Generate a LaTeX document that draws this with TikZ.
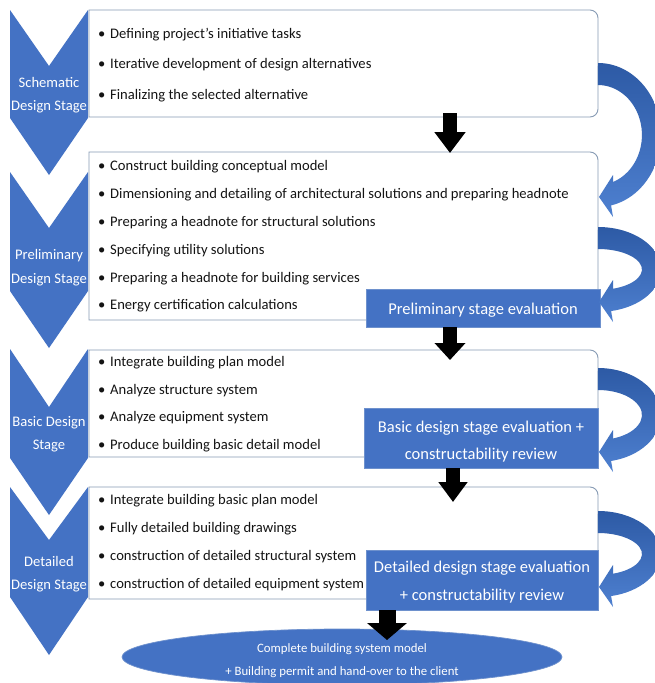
\documentclass[tikz,border=0pt]{standalone}
\usepackage{fontspec}
\setmainfont{Carlito}
\usetikzlibrary{arrows.meta,shapes.geometric}
\definecolor{chev}{RGB}{68,114,196}
\definecolor{boxln}{RGB}{135,155,180}
\definecolor{evln}{RGB}{110,145,205}
\definecolor{arrdark}{RGB}{45,90,165}
\definecolor{arrlight}{RGB}{78,128,208}
\newcommand{\fsBul}{\fontsize{14.6}{17}\selectfont}
\newcommand{\fsEval}{\fontsize{16.5}{20}\selectfont}
\newcommand{\fsEll}{\fontsize{12.8}{15}\selectfont}
% curved loop arrow: #1 = outer top y, #2 = tip y
\newcommand{\loopArrow}[2]{%
  \pgfmathsetmacro\lcy{(#1+#2+10)/2}%
  \pgfmathsetmacro\lryo{(#2+10-#1)/2}%
  \pgfmathsetmacro\lryi{(#2-#1-34)/2}%
  \pgfmathsetmacro\liy{\lcy+\lryi*sin(70)}%
  \shade[loopfill] (598,#1)
    arc[start angle=-90, end angle=78, x radius=63, y radius=\lryo]
    -- (613,#2+20) -- (599,#2) -- (613,#2-22) -- (613,\liy)
    arc[start angle=70, end angle=-90, x radius=44, y radius=\lryi]
    -- cycle;}
\begin{document}
\begin{tikzpicture}[x=1pt,y=-1pt,
  chevron/.style={fill=chev},
  stagetext/.style={text=white,font=\fsBul,anchor=base,inner sep=0},
  bullet/.style={font=\fsBul,anchor=base west,inner sep=0,text=black!92},
  taskbox/.style={draw=boxln,line width=0.9pt,fill=white},
  evalbox/.style={fill=chev,draw=evln,line width=0.7pt,inner sep=0},
  evaltext/.style={text=white,font=\fsEval,anchor=base,inner sep=0},
  loopfill/.style={top color=arrdark,bottom color=arrlight},
  flowarrow/.style={line width=14pt,-{Triangle[width=30pt 0,length=20pt 0]}},
]
\useasboundingbox (0,0) rectangle (655,683);
\fill[white] (0,0) rectangle (655,683);
\clip (0,0) rectangle (655,683);

% chevrons
\fill[chevron] (10,10) -- (49,66) -- (88,10) -- (88,118) -- (49,175) -- (10,118) -- cycle;
\fill[chevron] (10,172) -- (49,228) -- (88,172) -- (88,291) -- (49,348) -- (10,291) -- cycle;
\fill[chevron] (10,349) -- (49,407) -- (88,349) -- (88,458) -- (49,515) -- (10,458) -- cycle;
\fill[chevron] (10,487) -- (49,540) -- (88,487) -- (88,597) -- (49,655) -- (10,597) -- cycle;

\node[stagetext] (s1a) at (49,87) {Schematic};
\node[stagetext] (s1b) at (49,110) {Design Stage};
\node[stagetext] (s2a) at (49,259) {Preliminary};
\node[stagetext] (s2b) at (49,283) {Design Stage};
\node[stagetext] (s3a) at (49,426) {Basic Design};
\node[stagetext] (s3b) at (49,449) {Stage};
\node[stagetext] (s4a) at (49,566) {Detailed};
\node[stagetext] (s4b) at (49,589) {Design Stage};

% task boxes
\draw[taskbox] (89,10) -- (590,10) arc[start angle=-90,end angle=0,radius=8] -- (598,109) arc[start angle=0,end angle=90,radius=8] -- (89,117) -- cycle;
\draw[taskbox] (89,152) -- (590,152) arc[start angle=-90,end angle=0,radius=8] -- (598,312) arc[start angle=0,end angle=90,radius=8] -- (89,320) -- cycle;
\draw[taskbox] (89,350) -- (590,350) arc[start angle=-90,end angle=0,radius=8] -- (598,449) arc[start angle=0,end angle=90,radius=8] -- (89,457) -- cycle;
\draw[taskbox] (89,487) -- (590,487) arc[start angle=-90,end angle=0,radius=8] -- (598,591) arc[start angle=0,end angle=90,radius=8] -- (89,599) -- cycle;

% bullets
\newcommand{\bl}{\makebox[12pt][l]{•}}
\node[bullet] (t11) at (98,38) {\bl Defining project’s initiative tasks};
\node[bullet] (t12) at (98,68) {\bl Iterative development of design alternatives};
\node[bullet] (t13) at (98,99) {\bl Finalizing the selected alternative};

\node[bullet] (t21) at (98,170) {\bl Construct building conceptual model};
\node[bullet] (t22) at (98,198) {\bl Dimensioning and detailing of architectural solutions and preparing headnote};
\node[bullet] (t23) at (98,226) {\bl Preparing a headnote for structural solutions};
\node[bullet] (t24) at (98,254) {\bl Specifying utility solutions};
\node[bullet] (t25) at (98,282) {\bl Preparing a headnote for building services};
\node[bullet] (t26) at (98,309) {\bl Energy certification calculations};

\node[bullet] (t31) at (98,366) {\bl Integrate building plan model};
\node[bullet] (t32) at (98,394) {\bl Analyze structure system};
\node[bullet] (t33) at (98,421) {\bl Analyze equipment system};
\node[bullet] (t34) at (98,449) {\bl Produce building basic detail model};

\node[bullet] (t41) at (98,504) {\bl Integrate building basic plan model};
\node[bullet] (t42) at (98,532) {\bl Fully detailed building drawings};
\node[bullet] (t43) at (98,560) {\bl construction of detailed structural system};
\node[bullet] (t44) at (98,588) {\bl construction of detailed equipment system};

% evaluation boxes
\node[evalbox,minimum width=234pt,minimum height=38pt] (ev1) at (483,308) {};
\node[evaltext] (ev1t) at (483,314) {Preliminary stage evaluation};
\node[evalbox,minimum width=234pt,minimum height=60pt] (ev2) at (481,438) {};
\node[evaltext] (ev2a) at (481,432) {Basic design stage evaluation +};
\node[evaltext] (ev2b) at (481,459) {constructability review};
\node[evalbox,minimum width=232pt,minimum height=60pt] (ev3) at (482,580) {};
\node[evaltext] (ev3a) at (482,572) {Detailed design stage evaluation};
\node[evaltext] (ev3b) at (482,600) {+ constructability review};

% loop arrows
\loopArrow{63}{197}
\loopArrow{227}{302}
\loopArrow{368}{452}
\loopArrow{511}{587}

% final ellipse
\node[ellipse,fill=chev,draw=evln,line width=0.7pt,minimum width=440pt,minimum height=56pt,inner sep=0] (final) at (342,657) {};
\node[font=\fsEll,text=white,anchor=base,inner sep=0] (fa) at (342,652) {Complete building system model};
\node[font=\fsEll,text=white,anchor=base,inner sep=0] (fb) at (342,675) {+ Building permit and hand-over to the client};

% flow arrows
\coordinate (d1s) at (450,113); \coordinate (d1e) at (450,153);
\coordinate (d2s) at (450,327); \coordinate (d2e) at (450,360);
\coordinate (d3s) at (453,468); \coordinate (d3e) at (453,502);
\coordinate (d4s) at (387,610); \coordinate (d4e) at (387,640);
\draw[flowarrow,-{Triangle[width=30pt 0,length=21pt 0]}] (d1s) -- (d1e);
\draw[flowarrow,-{Triangle[width=30pt 0,length=17pt 0]}] (d2s) -- (d2e);
\draw[flowarrow,-{Triangle[width=28pt 0,length=20pt 0]}] (d3s) -- (d3e);
\draw[flowarrow,line width=17pt,-{Triangle[width=39pt 0,length=17pt 0]}] (d4s) -- (d4e);
\end{tikzpicture}
\end{document}
